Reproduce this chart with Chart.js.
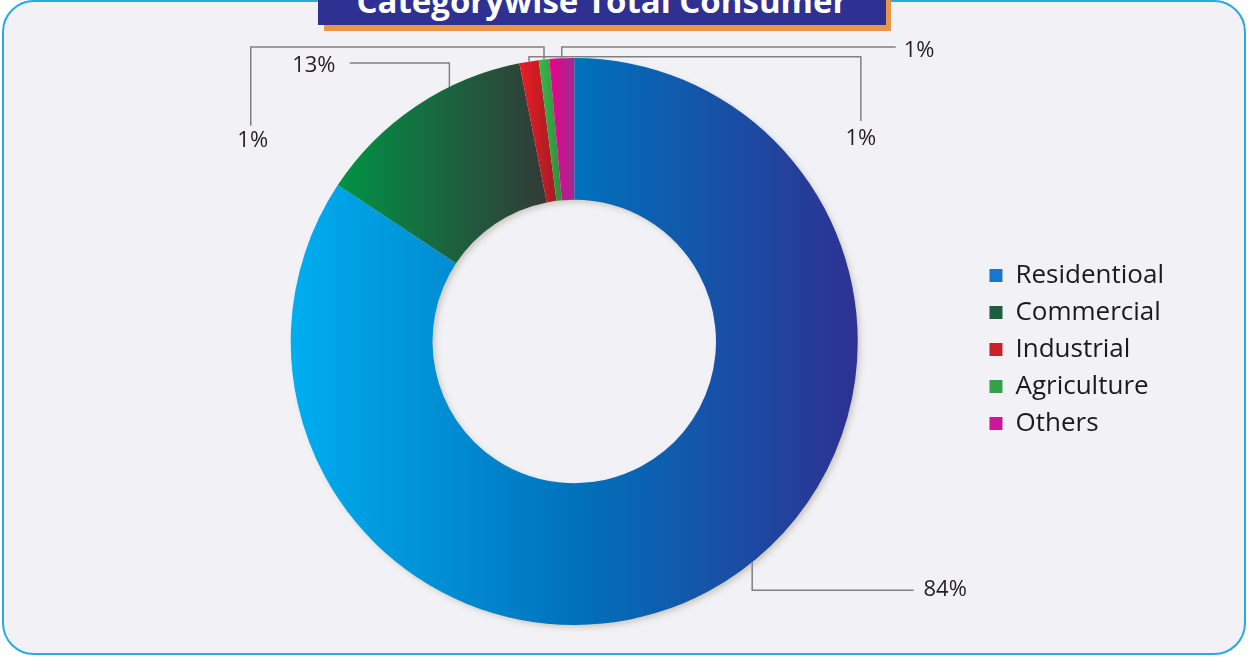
<!DOCTYPE html>
<html>
<head>
<meta charset="utf-8">
<script src="https://cdn.jsdelivr.net/npm/chart.js@4.4.1/dist/chart.umd.min.js"></script>
<style>
  html, body { margin: 0; padding: 0; background: #ffffff; }
  #wrap { position: relative; width: 1249px; height: 657px; overflow: hidden; }
  #frame { position: absolute; left: 2px; top: 0px; width: 1240px; height: 651px;
    border: 2.5px solid #2aa9e0; border-radius: 32px; background: #f2f2f6; }
  #titleShadow { position: absolute; left: 324px; top: -10px; width: 567px; height: 41px; background: #e8964a; }
  #titleBox { position: absolute; left: 318px; top: -10px; width: 568px; height: 35px; background: #2e3192;
    color: #fff; font-family: "Open Sans", Lato, sans-serif; font-weight: 700; font-size: 33px;
    text-align: center; line-height: 30px; z-index: 3; white-space: nowrap; }
  #titleBox span { position: relative; top: -4px; }
  #c { position: absolute; left: 0; top: 0; z-index: 2; }
</style>
</head>
<body>
<div id="wrap">
  <div id="frame"></div>
  <div id="titleShadow"></div>
  <div id="titleBox"><span>Categorywise Total Consumer</span></div>
  <canvas id="c" width="1249" height="657"></canvas>
</div>
<script>
// ---- data ----
const categories = ['Residentioal', 'Commercial', 'Industrial', 'Agriculture', 'Others'];
const shares = [84.3, 12.6, 1.1, 0.6, 1.4];
const pctLabels = shares.map(v => Math.round(v) + '%');

// ---- styles ----
const solidColors = ['#1479cc', '#1d5e40', '#c9202a', '#34a047', '#c81a98'];
const gradStops = [
  ['#00aeef', '#0072bc', '#2e3192'],
  ['#009345', '#333a38'],
  ['#ed1c24', '#a21e24'],
  ['#3cb84b', '#2b8c3b'],
  ['#ec008c', '#a02a90']
];
// leader routing, in units of outer radius relative to the centre
const leaders = [
  { at: 0.465, path: [['v', 0.877], ['h', 1.197]], label: { dx: 1.232, dy: 0.877, align: 'left' } },
  { at: 0.67, path: [['v', -0.982], ['h', -0.792]], label: { dx: -0.842, dy: -0.972, align: 'right' } },
  { at: 0.5, path: [['v', -1.004], ['h', 1.011], ['v', -0.778]], label: { dx: 1.011, dy: -0.715, align: 'center' } },
  { at: 0.5, path: [['v', -1.039], ['h', -1.141], ['v', -0.761]], label: { dx: -1.134, dy: -0.708, align: 'center' } },
  { at: 0.5, path: [['v', -1.039], ['h', 1.134]], label: { dx: 1.162, dy: -1.025, align: 'left' } }
];

function arcXExtent(arc) {
  const p = arc.getProps(['x', 'y', 'startAngle', 'endAngle', 'outerRadius', 'innerRadius'], true);
  let xs = [];
  const N = 60;
  for (let k = 0; k <= N; k++) {
    const a = p.startAngle + (p.endAngle - p.startAngle) * k / N;
    xs.push(p.x + Math.cos(a) * p.outerRadius, p.x + Math.cos(a) * p.innerRadius);
  }
  return [Math.min(...xs), Math.max(...xs)];
}

const gradientPlugin = {
  id: 'sliceGradients',
  beforeDatasetsDraw(chart) {
    const ctx = chart.ctx;
    const meta = chart.getDatasetMeta(0);
    const a0 = meta.data[0];
    if (a0) {
      const p = a0.getProps(['x', 'y', 'outerRadius', 'innerRadius'], true);
      ctx.save();
      ctx.shadowColor = 'rgba(120,110,80,0.35)';
      ctx.shadowBlur = 6;
      ctx.shadowOffsetX = 3;
      ctx.shadowOffsetY = 3;
      ctx.beginPath();
      ctx.arc(p.x, p.y, p.outerRadius - 1, 0, Math.PI * 2);
      ctx.arc(p.x, p.y, p.innerRadius + 1, 0, Math.PI * 2, true);
      ctx.fillStyle = '#e8e8ee';
      ctx.fill();
      ctx.restore();
    }
    meta.data.forEach((arc, i) => {
      const [x0, x1] = arcXExtent(arc);
      const g = ctx.createLinearGradient(x0, 0, x1, 0);
      const stops = gradStops[i];
      stops.forEach((c, k) => g.addColorStop(k / (stops.length - 1), c));
      arc.options.backgroundColor = g;
    });
  },
  afterDatasetsDraw(chart) {
    const ctx = chart.ctx;
    const meta = chart.getDatasetMeta(0);
    ctx.save();
    ctx.strokeStyle = '#808080';
    ctx.lineWidth = 1.5;
    ctx.fillStyle = '#231f20';
    ctx.font = '22px "Open Sans", Lato, sans-serif';
    ctx.textBaseline = 'middle';
    meta.data.forEach((arc, i) => {
      const p = arc.getProps(['x', 'y', 'startAngle', 'endAngle', 'outerRadius'], true);
      const R = p.outerRadius;
      const L = leaders[i];
      const a = p.startAngle + (p.endAngle - p.startAngle) * L.at;
      let px = p.x + Math.cos(a) * R, py = p.y + Math.sin(a) * R;
      ctx.beginPath();
      ctx.moveTo(px, py);
      L.path.forEach(([dir, v]) => {
        if (dir === 'v') py = p.y + v * R; else px = p.x + v * R;
        ctx.lineTo(px, py);
      });
      ctx.stroke();
      ctx.textAlign = L.label.align;
      ctx.fillText(pctLabels[i], p.x + L.label.dx * R, p.y + L.label.dy * R);
    });
    ctx.restore();
  }
};

new Chart(document.getElementById('c'), {
  type: 'doughnut',
  data: {
    labels: categories,
    datasets: [{
      data: shares,
      backgroundColor: (ctx) => solidColors[ctx.dataIndex],
      borderWidth: 0
    }]
  },
  options: {
    responsive: false,
    animation: false,
    events: [],
    cutout: '50%',
    layout: { padding: { left: 170, right: 75, top: 58, bottom: 32 } },
    plugins: {
      legend: {
        position: 'right',
        align: 'center',
        title: { display: true, text: ' ', font: { size: 10 }, padding: 2 },
        labels: {
          boxWidth: 13,
          boxHeight: 13,
          padding: 11,
          color: '#1a1a1a',
          font: { family: 'Open Sans', size: 26 }
        }
      },
      tooltip: { enabled: false },
      title: { display: false }
    }
  },
  plugins: [gradientPlugin]
});
</script>
</body>
</html>
